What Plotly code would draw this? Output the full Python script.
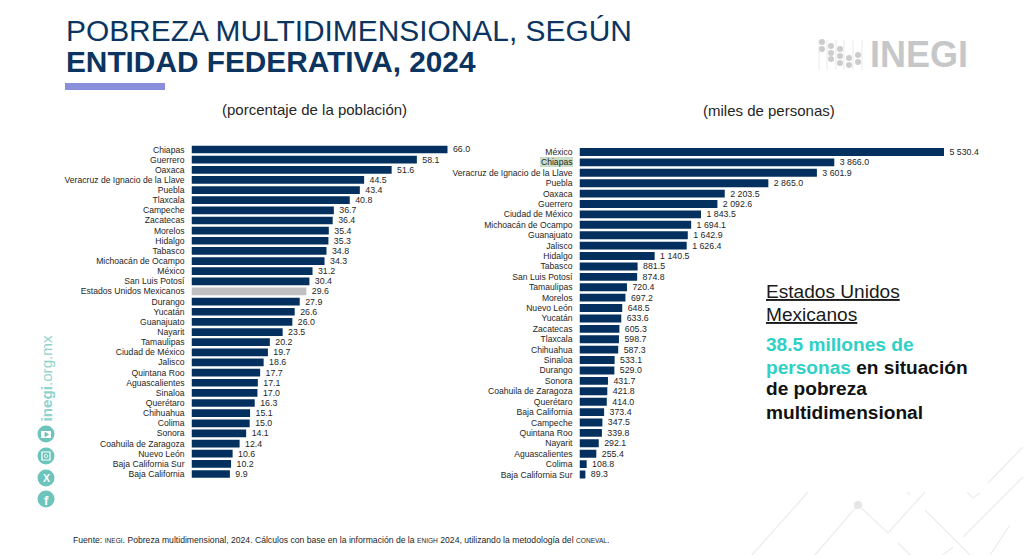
import plotly.graph_objects as go

W, H = 1024, 555

pct_states = ["Chiapas", "Guerrero", "Oaxaca", "Veracruz de Ignacio de la Llave", "Puebla", "Tlaxcala",
              "Campeche", "Zacatecas", "Morelos", "Hidalgo", "Tabasco", "Michoacán de Ocampo", "México",
              "San Luis Potosí", "Estados Unidos Mexicanos", "Durango", "Yucatán", "Guanajuato", "Nayarit",
              "Tamaulipas", "Ciudad de México", "Jalisco", "Quintana Roo", "Aguascalientes", "Sinaloa",
              "Querétaro", "Chihuahua", "Colima", "Sonora", "Coahuila de Zaragoza", "Nuevo León",
              "Baja California Sur", "Baja California"]
pct_values = [66.0, 58.1, 51.6, 44.5, 43.4, 40.8, 36.7, 36.4, 35.4, 35.3, 34.8, 34.3, 31.2, 30.4, 29.6,
              27.9, 26.6, 26.0, 23.5, 20.2, 19.7, 18.6, 17.7, 17.1, 17.0, 16.3, 15.1, 15.0, 14.1, 12.4,
              10.6, 10.2, 9.9]

mil_states = ["México", "Chiapas", "Veracruz de Ignacio de la Llave", "Puebla", "Oaxaca", "Guerrero",
              "Ciudad de México", "Michoacán de Ocampo", "Guanajuato", "Jalisco", "Hidalgo", "Tabasco",
              "San Luis Potosí", "Tamaulipas", "Morelos", "Nuevo León", "Yucatán", "Zacatecas", "Tlaxcala",
              "Chihuahua", "Sinaloa", "Durango", "Sonora", "Coahuila de Zaragoza", "Querétaro",
              "Baja California", "Campeche", "Quintana Roo", "Nayarit", "Aguascalientes", "Colima",
              "Baja California Sur"]
mil_values = [5530.4, 3866.0, 3601.9, 2865.0, 2203.5, 2092.6, 1843.5, 1694.1, 1642.9, 1626.4, 1140.5,
              881.5, 874.8, 720.4, 697.2, 648.5, 633.6, 605.3, 598.7, 587.3, 533.1, 529.0, 431.7, 421.8,
              414.0, 373.4, 347.5, 339.8, 292.1, 255.4, 108.8, 89.3]

NAVY = "#03305f"
GREY = "#bfbec1"
TEXT = "#262626"
FONT = "Liberation Sans, Arial, sans-serif"


def px(x):
    return x / W


def py(y):
    return 1 - y / H


def fmt(v):
    return " " + f"{v:,.1f}".replace(",", " ")


fig = go.Figure()
fig.add_trace(go.Bar(
    y=pct_states, x=pct_values, orientation="h", xaxis="x", yaxis="y",
    marker=dict(color=[GREY if s == "Estados Unidos Mexicanos" else NAVY for s in pct_states], line_width=0),
    text=[fmt(v) for v in pct_values], textposition="outside", cliponaxis=False, constraintext="none",
    textfont=dict(family=FONT, size=8.8, color=TEXT), hoverinfo="x+y", showlegend=False))
fig.add_trace(go.Bar(
    y=mil_states, x=mil_values, orientation="h", xaxis="x2", yaxis="y2",
    marker=dict(color=NAVY, line_width=0),
    text=[fmt(v) for v in mil_values], textposition="outside", cliponaxis=False, constraintext="none",
    textfont=dict(family=FONT, size=8.8, color=TEXT), hoverinfo="x+y", showlegend=False))

shapes = []
ann = []


def text(x, y, s, size, color=TEXT, anchor="left", angle=0, vanchor="middle"):
    ann.append(dict(text=s, x=px(x), y=py(y), xref="paper", yref="paper", xanchor=anchor, yanchor=vanchor,
                    showarrow=False, borderpad=0, textangle=angle, align="left",
                    font=dict(family=FONT, size=size, color=color)))


def rect(x0, y0, x1, y1, color, layer="above"):
    shapes.append(dict(type="rect", xref="paper", yref="paper", x0=px(x0), x1=px(x1), y0=py(y0), y1=py(y1),
                       fillcolor=color, line_width=0, layer=layer))


def circ(cx, cy, r, color, lw=0, lc=None):
    shapes.append(dict(type="circle", xref="paper", yref="paper", x0=px(cx - r), x1=px(cx + r), y0=py(cy - r),
                       y1=py(cy + r), fillcolor=color, line=dict(width=lw, color=lc or color), layer="above"))


def path(points, color="#ececee", w=1.2):
    d = "M " + " L ".join(f"{px(a)},{py(b)}" for a, b in points)
    shapes.append(dict(type="path", xref="paper", yref="paper", path=d, line=dict(color=color, width=w), layer="below"))


# title
text(65, 30, "POBREZA MULTIDIMENSIONAL, SEGÚN", 29.9, "#0c3460")
text(65, 62, "<b>ENTIDAD FEDERATIVA, 2024</b>", 29.8, "#0c3460")
rect(65, 83, 165, 90, "#8a8fdc")
text(314, 110, "(porcentaje de la población)", 15, "#262626", anchor="center")
text(769, 111, "(miles de personas)", 15, "#262626", anchor="center")

# Chiapas highlight (right chart)
rect(540, 157, 573, 167, "#c9dcc5", layer="below")

# call-out
text(764.5, 291, "<u>Estados Unidos</u>", 19.1, "#1a1a1a")
text(764.5, 314, "<u>Mexicanos</u>", 19.1, "#1a1a1a")
TEAL = "#2fd0c6"
text(764.5, 344, f"<b><span style='color:{TEAL}'>38.5 millones de</span></b>", 19.1)
text(764.5, 367, f"<b><span style='color:{TEAL}'>personas</span> en situación</b>", 19.1, "#111111")
text(764.5, 389, "<b>de pobreza</b>", 19.1, "#111111")
text(764.5, 412, "<b>multidimensional</b>", 19.1, "#111111")

# source
SC = "<span style='font-size:6.6px'>"
text(72, 540, f"Fuente: {SC}INEGI</span>. Pobreza multidimensional, 2024. Cálculos con base en la información de la "
              f"{SC}ENIGH</span> 2024, utilizando la metodología del {SC}CONEVAL</span>.", 8.65, "#262626")

# logo
for lx in [819, 827, 836, 844, 853, 862]:
    path([(lx, 40), (lx, 70)], "#dcdcdd", 0.6)
for dx, dy in [(822, 42), (822, 49), (831, 46), (831, 53), (831, 59), (840, 49), (840, 56), (840, 63),
               (849, 58), (849, 65), (858, 55), (858, 62)]:
    circ(dx, dy, 3, "#cccccd")
text(869, 54, "<b>INEGI</b>", 36, "#c6c7c8")

# side bar
text(46, 378.5, "<b>inegi</b>.org.mx", 15.2, "#8fd3cd", anchor="center", angle=-90)
ICON = "#6cc4bc"
for cy in (434, 456, 478, 499):
    circ(46, cy, 8.5, ICON)
rect(41, 431, 51, 438, "#ffffff")
path([(45, 432.5), (45, 436.5), (48.5, 434.5), (45, 432.5)], ICON, 1)
shapes[-1]["layer"] = "above"
shapes[-1]["fillcolor"] = ICON
shapes.append(dict(type="rect", xref="paper", yref="paper", x0=px(42), x1=px(50), y0=py(452), y1=py(460),
                   line=dict(color="#ffffff", width=1.2), layer="above"))
circ(46, 456, 1.6, ICON, 0.8, "#ffffff")
text(46, 478, "<b>X</b>", 10.5, "#ffffff", anchor="center")
text(46, 500, "<b>f</b>", 13, "#ffffff", anchor="center")

# background lines
for pts in [[(752, 555), (808, 492)],
            [(815, 555), (858, 505), (888, 533), (925, 492)],
            [(925, 510), (970, 555)],
            [(898, 543), (910, 555)],
            [(967, 492), (973, 498), (980, 493)],
            [(988, 483), (1023, 447)],
            [(963, 537), (1023, 477)],
            [(990, 555), (1010, 525)],
            [(943, 555), (953, 547)],
            [(907, 492), (910, 495)]]:
    path(pts)
shapes.append(dict(type="circle", xref="paper", yref="paper", x0=px(854), x1=px(862), y0=py(501), y1=py(509),
                   fillcolor="#e6e6e8", line_width=0, layer="below"))

L0, L1 = 191.5, 500
R0, R1 = 579.5, 980
PX_PCT = (447.5 - 191.5) / 66.0
PX_MIL = (944 - 579.5) / 5530.4
STEP_L = (474 - 149.5) / 32
STEP_R = (474.5 - 152) / 31

hidden = dict(showgrid=False, zeroline=False, showline=False, showticklabels=False, ticks="", fixedrange=True)
ytick = dict(showgrid=False, zeroline=False, showline=False, ticks="", ticklabelstandoff=6,
             tickfont=dict(family=FONT, size=8.6, color=TEXT), type="category", automargin=False,
             autorange=False, fixedrange=True, tickmode="linear", dtick=1)

fig.update_layout(
    width=W, height=H, margin=dict(l=0, r=0, t=0, b=0), autosize=False,
    paper_bgcolor="#ffffff", plot_bgcolor="rgba(0,0,0,0)", bargap=0.24, barmode="overlay",
    showlegend=False, shapes=shapes, annotations=ann,
    xaxis=dict(hidden, domain=[px(L0), px(L1)], range=[0, (L1 - L0) / PX_PCT], anchor="y"),
    xaxis2=dict(hidden, domain=[px(R0), px(R1)], range=[0, (R1 - R0) / PX_MIL], anchor="y2"),
    yaxis=dict(ytick, domain=[py(149.5 + 32.5 * STEP_L), py(149.5 - 0.5 * STEP_L)],
               range=[len(pct_states) - 0.5, -0.5], anchor="x",
               categoryorder="array", categoryarray=pct_states),
    yaxis2=dict(ytick, domain=[py(152 + 31.5 * STEP_R), py(152 - 0.5 * STEP_R)],
                range=[len(mil_states) - 0.5, -0.5], anchor="x2",
                categoryorder="array", categoryarray=mil_states),
)

fig.write_html("out.html", config={"displayModeBar": False},
               post_script="document.body.style.margin='0';document.body.style.overflow='hidden';")
